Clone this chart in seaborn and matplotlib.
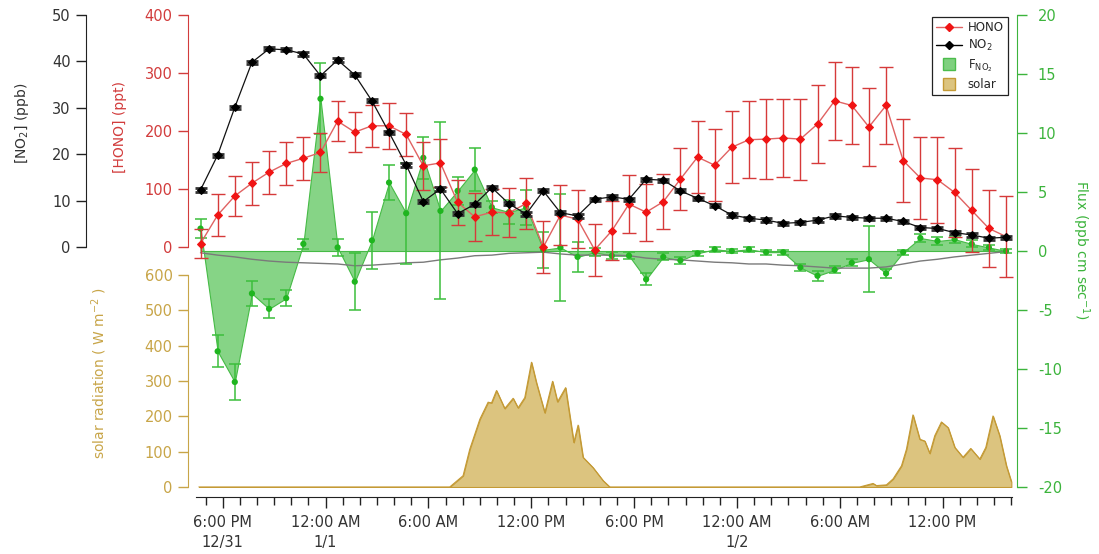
import numpy as np
import pandas as pd
import matplotlib
matplotlib.use("Agg")
import matplotlib.pyplot as plt
import seaborn as sns
from matplotlib.lines import Line2D

# ---------------- data ----------------
# hourly samples (hours after 12/31 00:00)
hours = 16.7 + np.arange(48)

hono = [6, 55, 88, 110, 129, 144, 153, 163, 217, 198, 209, 209, 194, 140, 145, 77,
        52, 60, 59, 75, 0, 55, 48, -5, 28, 74, 60, 78, 117, 155, 141, 172,
        185, 186, 188, 186, 212, 252, 244, 207, 244, 149, 119, 116, 94, 63, 32, 18]
hono_err = [25, 36, 35, 37, 37, 37, 37, 34, 34, 34, 36, 40, 37, 41, 41, 39,
            41, 40, 42, 44, 45, 52, 50, 45, 51, 50, 49, 47, 53, 62, 62, 62,
            66, 69, 68, 70, 68, 67, 66, 67, 66, 72, 71, 74, 76, 71, 66, 70]

no2 = [12.3, 19.8, 30.1, 39.8, 42.7, 42.5, 41.6, 36.9, 40.3, 37.1, 31.5, 24.7, 17.7, 9.8, 12.5, 7.2,
       9.2, 12.8, 9.3, 7.1, 12.1, 7.4, 6.7, 10.3, 10.8, 10.3, 14.6, 14.4, 12.1, 10.5, 8.9, 6.9,
       6.2, 5.8, 5.1, 5.3, 5.8, 6.7, 6.4, 6.2, 6.2, 5.5, 4.2, 4.0, 3.1, 2.6, 1.9, 2.1]
no2_err = [0.35] * 48

flux = [1.9, -8.5, -11.1, -3.6, -4.9, -4.0, 0.6, 12.9, 0.3, -2.6, 0.9, 5.8, 3.2, 7.9, 3.4, 5.1,
        6.9, 3.7, 3.3, 3.7, 0.1, 0.3, -0.5, -0.1, -0.4, -0.4, -2.4, -0.5, -0.8, -0.2, 0.15, 0.0,
        0.15, -0.1, -0.1, -1.4, -2.1, -1.6, -1.0, -0.7, -1.9, -0.1, 1.1, 0.85, 1.0, 0.6, 0.3, 0.0]
flux_err = [0.8, 1.35, 1.5, 1.1, 0.8, 0.7, 0.4, 3.0, 0.7, 2.4, 2.4, 1.5, 4.3, 1.8, 7.5, 1.2,
            1.8, 0.5, 1.0, 1.5, 1.5, 4.5, 1.3, 0.35, 0.3, 0.3, 0.5, 0.3, 0.3, 0.2, 0.2, 0.2,
            0.2, 0.2, 0.2, 0.3, 0.4, 0.3, 0.3, 2.8, 0.4, 0.2, 0.3, 0.3, 0.3, 0.3, 0.2, 0.2]
flux_lod = [-0.15, -0.35, -0.5, -0.7, -0.85, -0.95, -1.0, -1.05, -1.1, -1.25, -1.2, -1.1, -1.0, -0.95, -0.75, -0.6,
            -0.4, -0.35, -0.2, -0.15, -0.1, -0.25, -0.35, -0.35, -0.35, -0.4, -0.6, -0.7, -0.75, -0.85, -0.95, -1.0,
            -1.1, -1.1, -1.2, -1.25, -1.35, -1.45, -1.45, -1.45, -1.35, -1.1, -0.85, -0.7, -0.5, -0.35, -0.2, -0.05]

solar_t = [16.6, 31.24, 32.02, 32.41, 33.0, 33.48, 33.68, 33.97, 34.45, 34.94, 35.23, 35.62, 36.01,
           36.30, 36.79, 37.24, 37.53, 38.0, 38.48, 38.73, 39.02, 39.60, 40.19, 40.58,
           55.16, 55.94, 56.14, 56.72, 57.11, 57.60, 57.89, 58.27, 58.67, 58.96, 59.25, 59.54,
           59.93, 60.32, 60.71, 61.19, 61.64, 62.17, 62.52, 62.94, 63.33, 63.72, 64.01]
solar_v = [0, 0, 32, 107, 192, 240, 238, 273, 222, 251, 224, 253, 353,
           295, 210, 299, 241, 281, 126, 175, 84, 55, 18, 0,
           0, 10, 4, 6, 23, 60, 107, 204, 135, 130, 95, 145,
           184, 168, 112, 84, 109, 79, 112, 201, 145, 60, 15]

major_ticks = [18, 24, 30, 36, 42, 48, 54, 60]
major_labels = ["6:00 PM\n12/31", "12:00 AM\n1/1", "6:00 AM", "12:00 PM",
                "6:00 PM", "12:00 AM\n1/2", "6:00 AM", "12:00 PM"]

# ---------------- style ----------------
sns.set_style("ticks")
plt.rcParams["font.family"] = ["DejaVu Sans"]
plt.rcParams["font.size"] = 10.5
plt.rcParams["axes.unicode_minus"] = False

C_NO2 = "#3a3a3a"
C_HONO = "#d23c3c"
C_SOL = "#c8a548"
C_FLUX = "#3cb43c"

W, H = 1099, 554
fig = plt.figure(figsize=(W / 100, H / 100), dpi=100)


def rect(x0, y0, x1, y1):
    return [x0 / W, 1 - y1 / H, (x1 - x0) / W, (y1 - y0) / H]


R = rect(188, 15, 1017, 487)
XL = (15.97, 64.34)

ax_f = fig.add_axes(R)
ax_s = fig.add_axes(R)
ax_h = fig.add_axes(R)
ax_n = fig.add_axes(R)

for a in (ax_f, ax_s, ax_h, ax_n):
    a.set_xlim(*XL)
    a.patch.set_visible(False)
    for s in a.spines.values():
        s.set_visible(False)
    a.tick_params(axis="x", which="both", bottom=False, labelbottom=False)

# ---- flux (right axis) ----
ax_f.set_ylim(-20, 20)
ax_f.fill_between(hours, flux, 0, facecolor="#86d486", edgecolor="#46bb46", lw=0.8, zorder=1)
sns.lineplot(x=hours, y=flux_lod, ax=ax_f, color="#7a7a7a", lw=1.0, legend=False, zorder=2)
ax_f.errorbar(hours, flux, yerr=flux_err, fmt="none", ecolor="#3cbf3c", elinewidth=1.1,
              capsize=4.5, capthick=1.1, zorder=3)
sns.scatterplot(x=hours, y=flux, ax=ax_f, color="#1fb51f", s=20, edgecolor="none", zorder=4, legend=False)
ax_f.yaxis.tick_right()
ax_f.yaxis.set_label_position("right")
ax_f.spines["right"].set_visible(True)
ax_f.spines["right"].set_color(C_FLUX)
ax_f.set_yticks(np.arange(-20, 21, 5))
ax_f.tick_params(axis="y", which="both", left=False, right=True, labelleft=False, labelright=True,
                 colors=C_FLUX, length=7, width=1, direction="out", pad=8)
ax_f.set_ylabel("")

# ---- solar ----
ax_s.set_ylim(0, 1335.8)
ax_s.fill_between(solar_t, solar_v, 0, facecolor="#dcc47f", edgecolor="#c49a35", lw=0.8, zorder=1)
sns.lineplot(x=solar_t, y=solar_v, ax=ax_s, color="#c49a35", lw=0.8, legend=False)
ax_s.spines["left"].set_visible(True)
ax_s.spines["left"].set_color(C_SOL)
ax_s.spines["left"].set_bounds(0, 600)
ax_s.set_yticks(np.arange(0, 601, 100))
ax_s.tick_params(axis="y", colors=C_SOL, length=7, width=1, direction="out", left=True, pad=4)
ax_s.set_ylabel("")
# time axis (bottom)
ax_s.spines["bottom"].set_visible(True)
ax_s.spines["bottom"].set_color("#222222")
ax_s.spines["bottom"].set_position(("outward", 7.2))
ax_s.spines["bottom"].set_bounds(16.45, 64.05)
ax_s.set_xticks(major_ticks)
ax_s.set_xticklabels(major_labels, linespacing=1.45)
ax_s.set_xticks(np.arange(17, 65, 1), minor=True)
ax_s.tick_params(axis="x", which="major", bottom=True, labelbottom=True, length=8, width=1,
                 direction="out", colors="#222222", pad=5)
ax_s.tick_params(axis="x", which="minor", bottom=True, length=5.5, width=1, direction="out",
                 colors="#222222")
for lab in ax_s.get_xticklabels():
    lab.set_color("#333333")
ax_s.set_xlabel("")

# ---- HONO ----
ax_h.set_ylim(-413.8, 400)
ax_h.errorbar(hours, hono, yerr=hono_err, fmt="none", ecolor="#d63a3a", elinewidth=1.0,
              capsize=5, capthick=1.0, zorder=2)
sns.lineplot(x=hours, y=hono, ax=ax_h, color="#e06262", lw=1.0, marker="D", markersize=4.5,
             markerfacecolor="#f01414", markeredgecolor="#f01414", legend=False, zorder=3)
ax_h.spines["left"].set_visible(True)
ax_h.spines["left"].set_color(C_HONO)
ax_h.spines["left"].set_bounds(0, 400)
ax_h.set_yticks(np.arange(0, 401, 100))
ax_h.tick_params(axis="y", colors=C_HONO, length=7, width=1, direction="out", left=True, pad=4)
ax_h.set_ylabel("")

# ---- NO2 ----
ax_n.set_ylim(-51.72, 50)
ax_n.errorbar(hours, no2, yerr=no2_err, fmt="none", ecolor="#333333", elinewidth=1.0,
              capsize=4.5, capthick=2.0, zorder=2)
sns.lineplot(x=hours, y=no2, ax=ax_n, color="#111111", lw=0.9, marker="D", markersize=4.5,
             markerfacecolor="black", markeredgecolor="black", legend=False, zorder=3)
ax_n.spines["left"].set_visible(True)
ax_n.spines["left"].set_color("#222222")
ax_n.spines["left"].set_position(("outward", 73.4))
ax_n.spines["left"].set_bounds(0, 50)
ax_n.set_yticks(np.arange(0, 51, 10))
ax_n.tick_params(axis="y", colors="#222222", length=7, width=1, direction="out", left=True, pad=4)
for lab in ax_n.get_yticklabels():
    lab.set_color("#333333")
ax_n.set_ylabel("")

# ---- axis titles ----
fig.text(22 / W, 1 - 123 / H, "[NO$_2$] (ppb)", rotation=90, ha="center", va="center",
         color="#333333", fontsize=10)
fig.text(120 / W, 1 - 127 / H, "[HONO] (ppt)", rotation=90, ha="center", va="center",
         color=C_HONO, fontsize=10)
fig.text(99 / W, 1 - 373 / H, "solar radiation ( W m$^{-2}$ )", rotation=90, ha="center",
         va="center", color=C_SOL, fontsize=10)
fig.text(1081 / W, 1 - 250 / H, "Flux (ppb cm sec$^{-1}$)", rotation=270, ha="center",
         va="center", color=C_FLUX, fontsize=10)

# ---- legend ----
handles = [
    Line2D([], [], color="#e06262", marker="D", markersize=4.5, markerfacecolor="#f01414",
           markeredgecolor="#f01414", lw=1.0),
    Line2D([], [], color="black", marker="D", markersize=4.5, lw=1.0),
    Line2D([], [], linestyle="none", marker="s", markersize=8, markerfacecolor="#7fd07f",
           markeredgecolor="#4cbc4c"),
    Line2D([], [], linestyle="none", marker="s", markersize=8, markerfacecolor="#dcc47f",
           markeredgecolor="#c49a35"),
]
labels = ["HONO", "NO$_2$", "F$_{\\mathregular{NO_2}}$", "solar"]
leg = fig.legend(handles, labels, loc="upper right", bbox_to_anchor=(1008 / W, 1 - 17 / H),
                 frameon=True, fancybox=False, edgecolor="#222222", framealpha=1,
                 fontsize=8.5, handlelength=2.2, borderpad=0.35, labelspacing=0.35,
                 handletextpad=0.5, borderaxespad=0)
leg.get_frame().set_linewidth(0.9)

fig.savefig("out.png", dpi=100)
